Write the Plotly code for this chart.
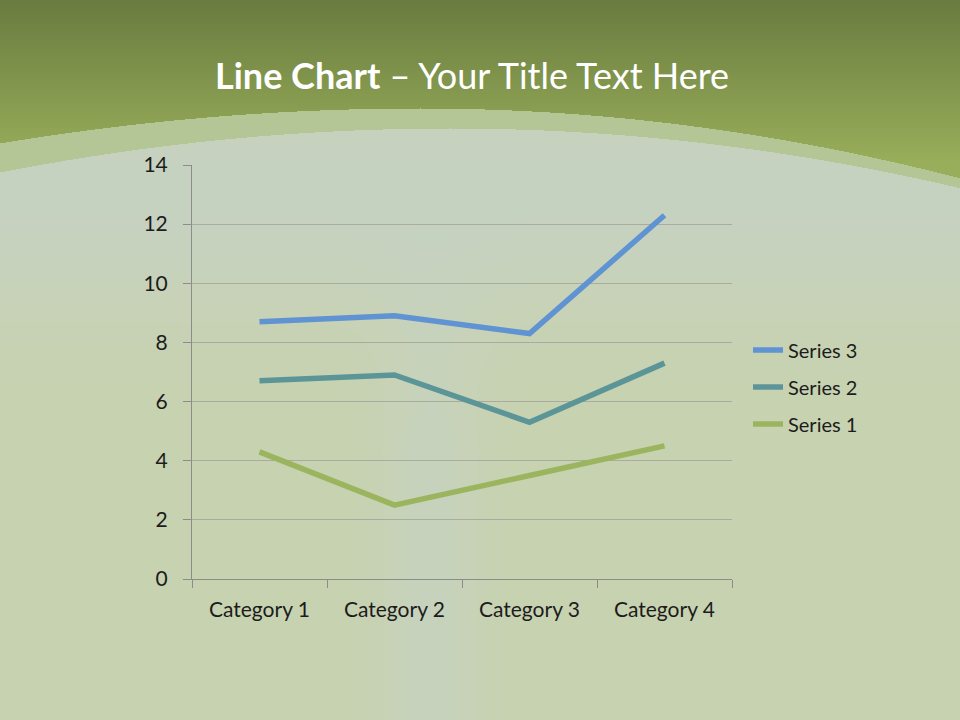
import zlib, struct, base64
import numpy as np
import plotly.graph_objects as go

categories = ["Category 1", "Category 2", "Category 3", "Category 4"]
series1 = [4.3, 2.5, 3.5, 4.5]
series2 = [2.4, 4.4, 1.8, 2.8]
series3 = [2.0, 2.0, 3.0, 5.0]
y_ticks = [0, 2, 4, 6, 8, 10, 12, 14]

W, H = 960, 720
L, R, T, B = 192, 732, 165, 579
PW, PH = R - L, B - T


# ---------- background picture (smooth, built as PNG) ----------
def make_bg():
    yy, xx = np.mgrid[0:H, 0:W].astype(float)
    top = np.array([106, 124, 64.0])
    bot = np.array([152, 174, 90.0])
    t = np.clip(yy / 160.0, 0, 1)[..., None]
    img = top * (1 - t) + bot * t
    outer = np.where(xx < 420, 108 + 1.98e-4 * (xx - 420) ** 2, 108 + 2.4e-4 * (xx - 420) ** 2)
    inner = np.where(xx < 450, 128 + 2.17e-4 * (xx - 450) ** 2, 128 + 2.3e-4 * (xx - 450) ** 2)
    band_col = np.array([180, 197, 150.0])
    body = np.array([200, 210, 176.0])
    blue = np.array([196, 212, 220.0])
    wt = 0.38 * np.exp(-((yy - 190) / 130.0) ** 2) \
        + 0.28 * np.exp(-((xx - 430) / 55.0) ** 2) * np.clip((yy - 200) / 250, 0, 1)
    wt = np.clip(wt, 0, 0.5)[..., None]
    bodyimg = body * (1 - wt) + blue * wt
    img = np.where((yy >= outer)[..., None], band_col, img)
    img = np.where((yy >= inner)[..., None], bodyimg, img)
    arr = np.clip(img, 0, 255).astype(np.uint8)
    raw = b"".join(b"\x00" + arr[i].tobytes() for i in range(H))

    def chunk(tag, data):
        c = struct.pack(">I", len(data)) + tag + data
        return c + struct.pack(">I", zlib.crc32(tag + data) & 0xFFFFFFFF)

    png = b"\x89PNG\r\n\x1a\n" + chunk(b"IHDR", struct.pack(">IIBBBBB", W, H, 8, 2, 0, 0, 0)) \
        + chunk(b"IDAT", zlib.compress(raw, 9)) + chunk(b"IEND", b"")
    return "data:image/png;base64," + base64.b64encode(png).decode()


FONT = "Lato"
fig = go.Figure()
cols = {"Series 1": "#9bb55f", "Series 2": "#5c9598", "Series 3": "#5f93d2"}
ranks = {"Series 1": 3, "Series 2": 2, "Series 3": 1}
for name, vals in [("Series 1", series1), ("Series 2", series2), ("Series 3", series3)]:
    fig.add_trace(go.Scatter(
        x=categories, y=vals, name=name, mode="lines", stackgroup="one", fill="none",
        legendgroup=name, legendrank=ranks[name], line=dict(color=cols[name], width=5.5),
    ))

fig.update_layout(
    width=W, height=H,
    margin=dict(l=L, r=W - R, t=T, b=H - B, pad=0),
    paper_bgcolor="#cdd6bb", plot_bgcolor="rgba(0,0,0,0)",
    font=dict(family=FONT, size=21, color="#1c1c1c"),
    showlegend=True,
    legend=dict(x=(748 - L) / PW, y=(B - 387) / PH, xanchor="left", yanchor="middle",
                traceorder="grouped", tracegroupgap=8, bgcolor="rgba(0,0,0,0)",
                font=dict(family=FONT, size=20, color="#1c1c1c"), itemwidth=30),
    xaxis=dict(type="category", tickson="boundaries", ticks="outside", ticklen=8,
               tickcolor="#8c8c8c", showline=True, linecolor="#8c8c8c", linewidth=1,
               showgrid=False, tickfont=dict(family=FONT, size=21), range=[-0.5, 3.5],
               ticklabelstandoff=12),
    yaxis=dict(range=[0, 14], tickvals=y_ticks, ticks="outside", ticklen=8,
               tickcolor="#8c8c8c", showline=True, linecolor="#8c8c8c", linewidth=1,
               showgrid=True, gridcolor="#a8ab9e", gridwidth=1, zeroline=False,
               tickfont=dict(family=FONT, size=21), ticklabelstandoff=11),
    images=[dict(source=make_bg(), xref="paper", yref="paper",
                 x=-L / PW, y=1 + T / PH, sizex=W / PW, sizey=H / PH,
                 xanchor="left", yanchor="top", sizing="stretch", layer="below")],
    annotations=[dict(text="<b>Line Chart</b> – Your Title Text Here", xref="paper", yref="paper",
                      x=(472 - L) / PW, y=(B - 75) / PH, xanchor="center", yanchor="middle",
                      showarrow=False, font=dict(family=FONT, size=36, color="white"))],
)

fig.write_html("out.html", config={"displayModeBar": False},
               post_script="document.body.style.margin='0';document.body.style.overflow='hidden';")
